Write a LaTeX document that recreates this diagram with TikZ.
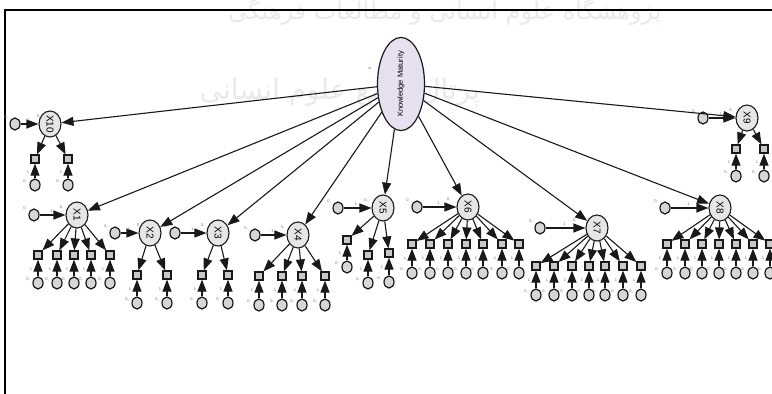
\documentclass[tikz,border=0pt]{standalone}
\usepackage{fontspec}
\setmainfont{Liberation Sans}
\usetikzlibrary{shapes.geometric,arrows.meta,calc}
\newfontfamily\arabicfont[Script=Arabic]{DejaVu Sans}
\TeXXeTstate=1
\definecolor{lav}{HTML}{E6E0F0}
\definecolor{latfill}{HTML}{E6E6E6}
\definecolor{indfill}{HTML}{C8C8C8}
\definecolor{errfill}{HTML}{D6D6D6}
\definecolor{wm}{HTML}{EAEAEA}
\begin{document}
\begin{tikzpicture}[x=1pt,y=-1pt,
  latent/.style={ellipse,draw=black!90,fill=latfill,line width=1.1pt,minimum width=22pt,minimum height=26pt,inner sep=0pt,font=\fontsize{10}{10}\selectfont},
  kmnode/.style={ellipse,draw=black!90,fill=lav,line width=1.2pt,minimum width=47pt,minimum height=72pt,inner sep=0pt,font=\fontsize{7.5}{7.5}\selectfont},
  ind/.style={rectangle,draw=black!90,fill=indfill,line width=1.2pt,minimum width=8pt,minimum height=8pt,inner sep=0pt,font=\fontsize{3}{3}\selectfont},
  err/.style={ellipse,draw=black!90,fill=errfill,line width=1.2pt,minimum width=10pt,minimum height=12pt,inner sep=0pt,font=\fontsize{3}{3}\selectfont},
  arr/.style={-{Triangle[length=12pt,width=9pt]},line width=1.1pt,draw=black!90},
  tl/.style={inner sep=0pt,font=\fontsize{4}{4}\selectfont,text=black!55}]
\useasboundingbox (0,0) rectangle (772,394);
\fill[white] (0,0) rectangle (772,394);
% watermark
\node[text=wm,font=\arabicfont\fontsize{24}{24}\selectfont] (wm1) at (445,12) {\beginR پژوهشگاه علوم انسانی و مطالعات فرهنگی\endR};
\node[text=wm,font=\arabicfont\fontsize{28}{28}\selectfont] (wm2) at (340,92) {\beginR پرتال جامع علوم انسانی\endR};
% frame
\draw[line width=1.4pt] (5,394) -- (5,10) -- (772,10);
% main latent
\node[kmnode] (KM) at (401,84) {\rotatebox{90}{Knowledge Maturity}};
\node[tl,rotate=90] (kmv) at (370,68) {0,};
% regular groups: name/lat x/lat y/res x/ind y/err y/ind xs
\foreach \n/\lx/\ly/\rx/\iy/\ey/\xs in {
  X10/50/124/15/159/185/{35,68},
  X9/747/118/703/149/176/{736,764},
  X1/77/215/34/255/283/{38,57,74,91,110},
  X2/150/233/115/275/303/{137,167},
  X3/218/233/175/275/303/{202,228},
  X4/298/235/255/276/305/{259,282,302,325},
  X6/468/207/417/244/273/{412,430,448,466,483,502,519},
  X7/597/228/540/266/295/{536,554,572,589,605,623,641},
  X8/720/208/665/244/273/{667,685,702,719,736,753,770}}{
  \node[latent] (\n) at (\lx,\ly) {\rotatebox{-90}{\n}};
  \node[err] (\n r) at (\rx,\ly) {};
  \draw[arr] (\n r) -- (\n);
  \node[tl] at (\rx-9,\ly-7) {0,};
  \node[tl] at ({(\rx+\lx)/2-4},\ly-4) {1};
  \node[tl] at ({(\rx+\lx)/2+6},\ly-8) {0,};
  \foreach \x [count=\i] in \xs {
    \node[ind] (\n i\i) at (\x,\iy) {};
    \node[err] (\n e\i) at (\x,\ey) {};
    \draw[arr] (\n) -- (\n i\i);
    \draw[arr] (\n e\i) -- (\n i\i);
    \node[tl] at (\x-7,{(\iy+\ey)/2}) {1};
    \node[tl] at (\x-10,\ey-4) {0,};
  }
}
% X5 (irregular)
\node[latent] (X5) at (383,208) {\rotatebox{-90}{X5}};
\node[err] (X5r) at (338,208) {};
\draw[arr] (X5r) -- (X5);
\node[tl] at (329,201) {0,};
\node[tl] at (356,204) {1};
\node[tl] at (366,200) {0,};
\foreach \x/\iy/\ey [count=\i] in {347/240/267,368/255/283,389/253/282}{
  \node[ind] (X5i\i) at (\x,\iy) {};
  \node[err] (X5e\i) at (\x,\ey) {};
  \draw[arr] (X5) -- (X5i\i);
  \draw[arr] (X5e\i) -- (X5i\i);
  \node[tl] at (\x-7,{(\iy+\ey)/2}) {1};
  \node[tl] at (\x-10,\ey-4) {0,};
}
% structural paths
\foreach \n in {X10,X1,X2,X3,X4,X5,X6,X7,X8,X9}{
  \draw[arr] (KM) -- (\n);
}
\end{tikzpicture}
\end{document}
